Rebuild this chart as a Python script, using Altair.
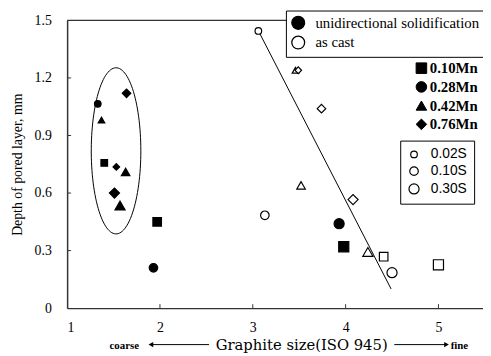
import altair as alt
import pandas as pd
import numpy as np

# ---- data ----
grain = [1.33, 1.37, 1.40, 1.53, 1.63, 1.64, 1.51, 1.57, 1.97, 1.93, 3.93, 3.98,
         3.06, 3.46, 3.49, 3.74, 3.52, 3.13, 4.08, 4.24, 4.41, 4.50, 5.00]
depth = [1.065, 0.98, 0.757, 0.736, 0.71, 1.12, 0.60, 0.535, 0.45, 0.21, 0.44, 0.32,
         1.445, 1.24, 1.24, 1.04, 0.64, 0.484, 0.566, 0.293, 0.268, 0.185, 0.226]
mn = ["0.28Mn", "0.42Mn", "0.10Mn", "0.76Mn", "0.42Mn", "0.76Mn", "0.76Mn", "0.42Mn",
      "0.10Mn", "0.28Mn", "0.28Mn", "0.10Mn",
      "0.28Mn", "0.42Mn", "0.76Mn", "0.76Mn", "0.42Mn", "0.28Mn", "0.76Mn", "0.42Mn",
      "0.10Mn", "0.28Mn", "0.10Mn"]
sulfur = ["0.02S", "0.02S", "0.02S", "0.02S", "0.10S", "0.10S", "0.30S", "0.30S",
          "0.10S", "0.10S", "0.30S", "0.30S",
          "0.02S", "0.02S", "0.02S", "0.10S", "0.10S", "0.10S", "0.30S", "0.30S",
          "0.10S", "0.30S", "0.30S"]
process = ["unidirectional solidification"] * 12 + ["as cast"] * 11

mn_levels = ["0.10Mn", "0.28Mn", "0.42Mn", "0.76Mn"]
s_levels = ["0.02S", "0.10S", "0.30S"]
proc_levels = ["unidirectional solidification", "as cast"]

fit_x = [3.06, 4.49]
fit_y = [1.446, 0.10]

ell_cx, ell_cy, ell_rx, ell_ry = 1.527, 0.82, 0.267, 0.433

x_ticks = [1, 2, 3, 4, 5]
y_ticks = [0, 0.3, 0.6, 0.9, 1.2, 1.5]

W, H = 422, 292
SERIF = "Liberation Serif"
SANS = "Liberation Sans"

df = pd.DataFrame({"g": grain, "d": depth, "mn": mn, "s": sulfur, "p": process})
fit = pd.DataFrame({"g": fit_x, "d": fit_y})
t = np.linspace(0, 2 * np.pi, 120)
ell = pd.DataFrame({"g": ell_cx + ell_rx * np.cos(t), "d": ell_cy + ell_ry * np.sin(t), "o": np.arange(len(t))})

xs = alt.Scale(domain=[1, 5.48], nice=False)
ys = alt.Scale(domain=[0, 1.5], nice=False)

x_ax = alt.Axis(values=x_ticks, format="d", title=None, grid=False, ticks=False,
                labelPadding=13, labelFont=SERIF, labelFontSize=14, labelColor="black",
                domainColor="#333", domainWidth=1.5)
y_ax = alt.Axis(values=y_ticks, title="Depth of pored layer, mm", grid=False, ticks=False,
                labelExpr="datum.value == 0 ? '0' : format(datum.value, '.1f')",
                labelPadding=16, labelFont=SERIF, labelFontSize=14, labelColor="black",
                titleFont=SERIF, titleFontSize=14, titleFontWeight="normal", titleColor="black",
                titlePadding=10, domainColor="#333", domainWidth=1.5)

points = alt.Chart(df).mark_point(filled=True, stroke="black", strokeWidth=1.2, opacity=1).encode(
    x=alt.X("g:Q", scale=xs, axis=x_ax),
    y=alt.Y("d:Q", scale=ys, axis=y_ax),
    fill=alt.Fill("p:N", scale=alt.Scale(domain=proc_levels, range=["black", "white"]),
                  legend=alt.Legend(title=None, orient="none", legendX=222, legendY=-10,
                                    symbolType="circle", symbolSize=170,
                                    symbolStrokeColor="black", symbolStrokeWidth=1.3,
                                    labelFont=SERIF, labelFontSize=15, labelColor="black",
                                    labelLimit=300,
                                    strokeColor="black", fillColor="white", padding=5,
                                    rowPadding=1, labelOffset=10)),
    shape=alt.Shape("mn:N", scale=alt.Scale(domain=mn_levels,
                                            range=["square", "circle", "triangle-up", "diamond"]),
                    legend=alt.Legend(title=None, orient="none", legendX=352, legendY=41,
                                      symbolSize=115, symbolFillColor="black",
                                      symbolStrokeColor="black", symbolStrokeWidth=1,
                                      labelFont=SERIF, labelFontSize=15, labelFontWeight="bold",
                                      labelColor="black", labelOffset=1, rowPadding=3,
                                      fillColor="white")),
    size=alt.Size("s:O", scale=alt.Scale(domain=s_levels, range=[45, 105, 190]),
                  legend=alt.Legend(title=None, orient="none", legendX=338, legendY=122,
                                    symbolType="circle", symbolFillColor="white",
                                    symbolStrokeColor="black", symbolStrokeWidth=1.2,
                                    labelFont=SANS, labelFontSize=14, labelColor="black",
                                    strokeColor="black", fillColor="white", padding=7,
                                    rowPadding=3, labelOffset=10)),
)

fit_line = alt.Chart(fit).mark_line(color="black", strokeWidth=1).encode(
    x=alt.X("g:Q", scale=xs), y=alt.Y("d:Q", scale=ys))

ellipse = alt.Chart(ell).mark_line(color="black", strokeWidth=1).encode(
    x=alt.X("g:Q", scale=xs), y=alt.Y("d:Q", scale=ys), order="o:Q")

top_line = alt.Chart(pd.DataFrame({"a": [0]})).mark_rule(color="#333", strokeWidth=1.5).encode(
    y=alt.value(0))

xt = alt.Chart(pd.DataFrame({"v": x_ticks[1:]})).mark_rule(color="#333").encode(
    x=alt.X("v:Q", scale=xs), y=alt.value(H), y2=alt.value(H - 4))
yt = alt.Chart(pd.DataFrame({"v": y_ticks[1:-1]})).mark_rule(color="#333").encode(
    y=alt.Y("v:Q", scale=ys), x=alt.value(0), x2=alt.value(4))

TY = 329
labels = pd.DataFrame({
    "t": ["coarse", "Graphite size(ISO 945)", "fine"],
})
title_main = alt.Chart(labels.iloc[[1]]).mark_text(font="DejaVu Serif", fontSize=15,
                                                    color="black").encode(
    text="t:N", x=alt.value(238), y=alt.value(TY))
title_coarse = alt.Chart(labels.iloc[[0]]).mark_text(font=SERIF, fontSize=11, fontWeight="bold",
                                                      color="black").encode(
    text="t:N", x=alt.value(58), y=alt.value(TY + 1))
title_fine = alt.Chart(labels.iloc[[2]]).mark_text(font=SERIF, fontSize=11, fontWeight="bold",
                                                    color="black").encode(
    text="t:N", x=alt.value(398), y=alt.value(TY + 1))
arrow_l = alt.Chart(pd.DataFrame({"a": [0]})).mark_rule(color="black").encode(
    x=alt.value(84), x2=alt.value(144), y=alt.value(TY))
arrow_r = alt.Chart(pd.DataFrame({"a": [0]})).mark_rule(color="black").encode(
    x=alt.value(332), x2=alt.value(385), y=alt.value(TY))
head_l = alt.Chart(pd.DataFrame({"a": [0]})).mark_point(shape="triangle-left", filled=True,
                                                         color="black", size=30, opacity=1).encode(
    x=alt.value(85), y=alt.value(TY))
head_r = alt.Chart(pd.DataFrame({"a": [0]})).mark_point(shape="triangle-right", filled=True,
                                                         color="black", size=30, opacity=1).encode(
    x=alt.value(385), y=alt.value(TY))

chart = alt.layer(ellipse, fit_line, top_line, xt, yt, points,
                  title_main, title_coarse, title_fine, arrow_l, arrow_r, head_l, head_r).properties(
    width=W, height=H,
    autosize=alt.AutoSizeParams(type="none"),
    padding={"left": 60, "top": 10, "right": 0, "bottom": 46},
    background="white",
).configure_view(stroke=None)

chart.save("out.html", embed_options={"renderer": "svg", "actions": False})
